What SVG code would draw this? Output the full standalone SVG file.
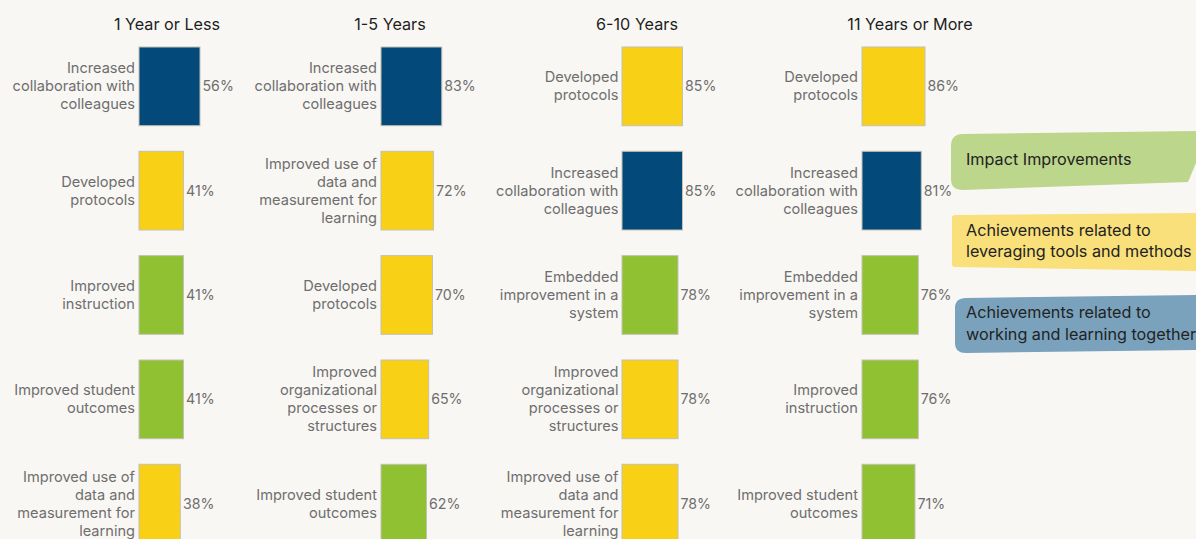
<svg xmlns="http://www.w3.org/2000/svg" width="1196" height="539" viewBox="0 0 1196 539">
<style>
.bg{fill:#f9f7f4}
.t{font-family:Inter,"Noto Sans","Liberation Sans",sans-serif;font-size:16.2px;font-weight:400;fill:#1e1e1e;text-anchor:middle}
.l{font-family:Inter,"Noto Sans","Liberation Sans",sans-serif;font-size:14.6px;fill:#6e6e6e;text-anchor:end}
.v{font-family:Inter,"Noto Sans","Liberation Sans",sans-serif;font-size:14.2px;fill:#6e6e6e}
.lg{font-family:Inter,"Noto Sans","Liberation Sans",sans-serif;font-size:16.2px;fill:#222}
.b{stroke:#c4c0b4;stroke-width:1}
.navy{fill:#034a7b}
.yel{fill:#f8d116}
.grn{fill:#90c133}
</style>
<rect class="bg" x="0" y="0" width="1196" height="539"/>
<g id="titles">
<text class="t" x="167" y="30">1 Year or Less</text>
<text class="t" x="390" y="30">1-5 Years</text>
<text class="t" x="637" y="30">6-10 Years</text>
<text class="t" x="910" y="30">11 Years or More</text>
</g>
<g id="connectors"></g>
<!-- Column 1 -->
<g id="c1r1"><rect class="b navy" x="139" y="47" width="61" height="78.7"/><text class="l" x="135" y="73.3">Increased</text><text class="l" x="135" y="91.3">collaboration with</text><text class="l" x="135" y="109.3">colleagues</text><text class="v" x="202.5" y="91.3">56%</text></g>
<g id="c1r2"><rect class="b yel" x="139" y="151.3" width="44.5" height="78.7"/><text class="l" x="135" y="186.6">Developed</text><text class="l" x="135" y="204.6">protocols</text><text class="v" x="186" y="195.6">41%</text></g>
<g id="c1r3"><rect class="b grn" x="139" y="255.6" width="44.5" height="78.7"/><text class="l" x="135" y="290.9">Improved</text><text class="l" x="135" y="308.9">instruction</text><text class="v" x="186" y="299.9">41%</text></g>
<g id="c1r4"><rect class="b grn" x="139" y="360" width="44.5" height="78.7"/><text class="l" x="135" y="395.3">Improved student</text><text class="l" x="135" y="413.3">outcomes</text><text class="v" x="186" y="404.3">41%</text></g>
<g id="c1r5"><rect class="b yel" x="139" y="464.3" width="41.3" height="78.7"/><text class="l" x="135" y="481.6">Improved use of</text><text class="l" x="135" y="499.6">data and</text><text class="l" x="135" y="517.6">measurement for</text><text class="l" x="135" y="535.6">learning</text><text class="v" x="183" y="508.6">38%</text></g>
<!-- Column 2 -->
<g id="c2r1"><rect class="b navy" x="381" y="47" width="60.8" height="78.7"/><text class="l" x="377" y="73.3">Increased</text><text class="l" x="377" y="91.3">collaboration with</text><text class="l" x="377" y="109.3">colleagues</text><text class="v" x="444.3" y="91.3">83%</text></g>
<g id="c2r2"><rect class="b yel" x="381" y="151.3" width="52.5" height="78.7"/><text class="l" x="377" y="168.6">Improved use of</text><text class="l" x="377" y="186.6">data and</text><text class="l" x="377" y="204.6">measurement for</text><text class="l" x="377" y="222.6">learning</text><text class="v" x="436" y="195.6">72%</text></g>
<g id="c2r3"><rect class="b yel" x="381" y="255.6" width="51.5" height="78.7"/><text class="l" x="377" y="290.9">Developed</text><text class="l" x="377" y="308.9">protocols</text><text class="v" x="435" y="299.9">70%</text></g>
<g id="c2r4"><rect class="b yel" x="381" y="360" width="47.7" height="78.7"/><text class="l" x="377" y="377.3">Improved</text><text class="l" x="377" y="395.3">organizational</text><text class="l" x="377" y="413.3">processes or</text><text class="l" x="377" y="431.3">structures</text><text class="v" x="431.2" y="404.3">65%</text></g>
<g id="c2r5"><rect class="b grn" x="381" y="464.3" width="45.5" height="78.7"/><text class="l" x="377" y="499.6">Improved student</text><text class="l" x="377" y="517.6">outcomes</text><text class="v" x="429" y="508.6">62%</text></g>
<!-- Column 3 -->
<g id="c3r1"><rect class="b yel" x="622" y="47" width="60.5" height="78.7"/><text class="l" x="618.5" y="82.3">Developed</text><text class="l" x="618.5" y="100.3">protocols</text><text class="v" x="685" y="91.3">85%</text></g>
<g id="c3r2"><rect class="b navy" x="622" y="151.3" width="60.5" height="78.7"/><text class="l" x="618.5" y="177.6">Increased</text><text class="l" x="618.5" y="195.6">collaboration with</text><text class="l" x="618.5" y="213.6">colleagues</text><text class="v" x="685" y="195.6">85%</text></g>
<g id="c3r3"><rect class="b grn" x="622" y="255.6" width="56" height="78.7"/><text class="l" x="618.5" y="281.9">Embedded</text><text class="l" x="618.5" y="299.9">improvement in a</text><text class="l" x="618.5" y="317.9">system</text><text class="v" x="680.5" y="299.9">78%</text></g>
<g id="c3r4"><rect class="b yel" x="622" y="360" width="56" height="78.7"/><text class="l" x="618.5" y="377.3">Improved</text><text class="l" x="618.5" y="395.3">organizational</text><text class="l" x="618.5" y="413.3">processes or</text><text class="l" x="618.5" y="431.3">structures</text><text class="v" x="680.5" y="404.3">78%</text></g>
<g id="c3r5"><rect class="b yel" x="622" y="464.3" width="56" height="78.7"/><text class="l" x="618.5" y="481.6">Improved use of</text><text class="l" x="618.5" y="499.6">data and</text><text class="l" x="618.5" y="517.6">measurement for</text><text class="l" x="618.5" y="535.6">learning</text><text class="v" x="680.5" y="508.6">78%</text></g>
<!-- Column 4 -->
<g id="c4r1"><rect class="b yel" x="862" y="47" width="63" height="78.7"/><text class="l" x="858" y="82.3">Developed</text><text class="l" x="858" y="100.3">protocols</text><text class="v" x="927.5" y="91.3">86%</text></g>
<g id="c4r2"><rect class="b navy" x="862" y="151.3" width="59.3" height="78.7"/><text class="l" x="858" y="177.6">Increased</text><text class="l" x="858" y="195.6">collaboration with</text><text class="l" x="858" y="213.6">colleagues</text><text class="v" x="923.8" y="195.6">81%</text></g>
<g id="c4r3"><rect class="b grn" x="862" y="255.6" width="56.3" height="78.7"/><text class="l" x="858" y="281.9">Embedded</text><text class="l" x="858" y="299.9">improvement in a</text><text class="l" x="858" y="317.9">system</text><text class="v" x="920.8" y="299.9">76%</text></g>
<g id="c4r4"><rect class="b grn" x="862" y="360" width="56.3" height="78.7"/><text class="l" x="858" y="395.3">Improved</text><text class="l" x="858" y="413.3">instruction</text><text class="v" x="920.8" y="404.3">76%</text></g>
<g id="c4r5"><rect class="b grn" x="862" y="464.3" width="53" height="78.7"/><text class="l" x="858" y="499.6">Improved student</text><text class="l" x="858" y="517.6">outcomes</text><text class="v" x="917.5" y="508.6">71%</text></g>
<!-- Legend -->
<g id="legend-impact"><path d="M951,146 Q951,134 963,134 L1196,131 L1196,163 L1188,182 L963,190 Q951,190 951,179 Z" fill="#bcd68c"/><text class="lg" x="966" y="165">Impact Improvements</text></g>
<g id="legend-tools"><path d="M952,218 Q952,215 955,215 L1196,213 L1196,271 L955,267 Q952,267 952,264 Z" fill="#f9e07a"/><text class="lg" x="966" y="236">Achievements related to</text><text class="lg" x="966" y="257">leveraging tools and methods</text></g>
<g id="legend-together"><path d="M955,308 Q955,298 966,298 L1196,295 L1196,350 L966,353 Q955,353 955,343 Z" fill="#7aa2bd"/><text class="lg" x="966" y="318">Achievements related to</text><text class="lg" x="966" y="340">working and learning together</text></g>
</svg>
